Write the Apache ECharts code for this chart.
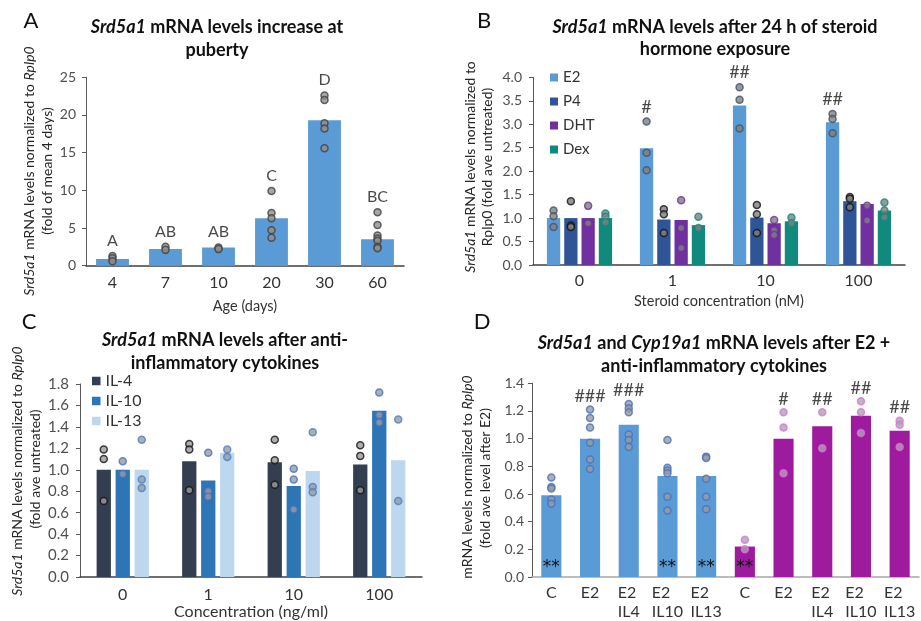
<!DOCTYPE html>
<html><head><meta charset="utf-8">
<script src="https://cdn.jsdelivr.net/npm/echarts@6/dist/echarts.min.js"></script>
<style>html,body{margin:0;padding:0;background:#fff}#c{width:921px;height:621px}</style>
</head><body><div id="c"></div>
<script>
// ---------- Panel A ----------
const aCats = ['4','7','10','20','30','60'];
const aMeans = [0.9, 2.2, 2.4, 6.3, 19.3, 3.5];
const aPoints = [[1.3,1.0,0.6],[2.5,2.1],[2.4,2.2],[9.9,7.0,6.3,4.7,3.7],[22.6,22.0,18.9,18.2,15.6],[7.1,5.4,4.0,3.6,3.3,2.5,2.3]];
const aLetters = ['A','AB','AB','C','D','BC'];

// ---------- Panel B ----------
const bCats = ['0','1','10','100'];
const bNames = ['E2','P4','DHT','Dex'];
const bE2 = [1.0, 2.49, 3.40, 3.04];
const bP4 = [1.0, 0.97, 1.01, 1.36];
const bDHT = [1.0, 0.96, 0.89, 1.30];
const bDex = [1.0, 0.85, 0.93, 1.16];
const bE2Pts = [[1.16,1.04,0.81],[3.06,2.39,2.02],[3.79,3.52,2.91],[3.22,3.11,2.81]];
const bP4Pts = [[1.36,0.84,0.81],[1.19,1.08,0.68],[1.28,1.08,0.68],[1.45,1.41,1.23]];
const bDHTPts = [[1.26,0.89],[1.38,0.79,0.36],[0.96,0.74,0.64],[1.26,0.95]];
const bDexPts = [[1.10,1.03,0.91],[1.03,0.79],[1.01,0.89],[1.33,1.16,1.02]];
const bE2Marks = ['', '#', '##', '##'];

// ---------- Panel C ----------
const cCats = ['0','1','10','100'];
const cNames = ['IL-4','IL-10','IL-13'];
const cIL4 = [1.0, 1.08, 1.07, 1.05];
const cIL10 = [1.0, 0.90, 0.85, 1.55];
const cIL13 = [1.0, 1.16, 0.99, 1.09];
const cIL4Pts = [[1.19,1.10,0.71],[1.24,1.19,0.81],[1.28,1.09,0.86],[1.23,1.13,0.81]];
const cIL10Pts = [[1.08,0.96],[1.16,0.80,0.75],[1.01,0.91,0.63],[1.72,1.51,1.44]];
const cIL13Pts = [[1.28,0.91,0.83],[1.19,1.12],[1.35,0.84,0.79],[1.47,0.71]];

// ---------- Panel D ----------
const dCats = ['C','E2','E2\nIL4','E2\nIL10','E2\nIL13','C','E2','E2\nIL4','E2\nIL10','E2\nIL13'];
const dSrd5a1 = [0.59, 1.0, 1.10, 0.73, 0.73, null, null, null, null, null];
const dCyp19a1 = [null, null, null, null, null, 0.22, 1.0, 1.09, 1.165, 1.057];
const dSrdPts = [[0.72,0.65,0.64,0.56,0.53],[1.21,1.15,1.08,0.97,0.85,0.78],[1.25,1.22,1.19,1.03,0.99,0.94],[0.99,0.79,0.77,0.75,0.58,0.48],[0.87,0.86,0.71,0.58,0.49],null,null,null,null,null];
const dCypPts = [null,null,null,null,null,[0.27,0.20],[1.19,1.08,0.75],[1.19,0.93],[1.27,1.19,1.04],[1.13,1.10,0.94]];
const dHash = ['', '###', '###', '', '', '', '#', '##', '##', '##'];
const dStars = ['**','','','**','**','**','','','',''];

// ---------- styles ----------
const FONT = 'Lato';
const DOT = 7;
const B_BAR = 0.143, B_GAP = 0.3;
const C_BAR = 0.167, C_GAP = 0.33;

function dotData(pts, off) {
  const out = [];
  pts.forEach((p, i) => { if (p) p.forEach(v => out.push([i + off, v])); });
  return out;
}
function topData(pts, marks, off) {
  const out = [];
  pts.forEach((p, i) => { if (p && marks[i]) out.push({value:[i + off, Math.max(...p)], mark: marks[i]}); });
  return out;
}
function dotSeries(x, y, data, border, fill) {
  return {type:'scatter', xAxisIndex:x, yAxisIndex:y, data, symbolSize:DOT, z:5,
    itemStyle:{color:fill || '#9b9b9b', borderColor:border, borderWidth:1.5}};
}
function markSeries(x, y, data, fs, dist) {
  return {type:'scatter', xAxisIndex:x, yAxisIndex:y, data, symbolSize:1, z:6,
    itemStyle:{color:'rgba(0,0,0,0)'},
    label:{show:true, position:'top', distance:dist, fontFamily:FONT, fontSize:fs, color:'#1a1a1a',
      formatter: p => p.data.mark}};
}

const series = [];
// A
series.push({type:'bar', xAxisIndex:0, yAxisIndex:0, data:aMeans, barWidth:'62%', itemStyle:{color:'#5b9bd5'}});
series.push(dotSeries(0, 0, dotData(aPoints, 0), '#404040', '#8f8f8f'));
series.push(markSeries(0, 0, topData(aPoints, aLetters, 0), 16, 7));

// B
const bColors = ['#5b9bd5','#2f5597','#7030a0','#12897d'];
const bBorders = ['#44546a','#111111','#7030a0','#12897d'];
[bE2, bP4, bDHT, bDex].forEach((d, j) => {
  series.push({type:'bar', name:bNames[j], xAxisIndex:1, yAxisIndex:1, data:d,
    barWidth:(B_BAR*100)+'%', barGap:(B_GAP*100)+'%', itemStyle:{color:bColors[j]}});
});
[bE2Pts, bP4Pts, bDHTPts, bDexPts].forEach((p, j) => {
  const off = (j - 1.5) * B_BAR * (1 + B_GAP);
  series.push(dotSeries(2, 1, dotData(p, off), bBorders[j], '#7f7f7f'));
  if (j === 0) series.push(markSeries(2, 1, topData(p, bE2Marks, off), 18, 5));
});

// C
const cColors = ['#333f50','#2e75b6','#bdd7ee'];
const cBorders = ['#111111','#4472c4','#4a7fcc'];
[cIL4, cIL10, cIL13].forEach((d, j) => {
  series.push({type:'bar', name:cNames[j], xAxisIndex:3, yAxisIndex:2, data:d,
    barWidth:(C_BAR*100)+'%', barGap:(C_GAP*100)+'%', itemStyle:{color:cColors[j]}});
});
[cIL4Pts, cIL10Pts, cIL13Pts].forEach((p, j) => {
  const off = (j - 1) * C_BAR * (1 + C_GAP);
  series.push(dotSeries(4, 2, dotData(p, off), cBorders[j]));
});

// D
const starLabel = {show:true, position:'insideBottom', distance:1, fontFamily:'DejaVu Sans', fontSize:17, color:'#111',
  formatter: p => dStars[p.dataIndex]};
series.push({type:'bar', name:'Srd5a1', xAxisIndex:5, yAxisIndex:3, data:dSrd5a1, barWidth:'52%', barGap:'-100%',
  itemStyle:{color:'#5b9bd5'}, label:starLabel});
series.push({type:'bar', name:'Cyp19a1', xAxisIndex:5, yAxisIndex:3, data:dCyp19a1, barWidth:'52%', barGap:'-100%',
  itemStyle:{color:'#9e1b9e'}, label:starLabel});
series.push(dotSeries(5, 3, dotData(dSrdPts, 0), '#4472c4'));
series.push(dotSeries(5, 3, dotData(dCypPts, 0), '#e070e0', '#a8a8a8'));
const allD = dSrdPts.map((p, i) => p || dCypPts[i]);
series.push(markSeries(5, 3, topData(allD, dHash, 0), 18, 4));

// ---------- axes ----------
const yLab = (fs, m, dec) => ({fontFamily:FONT, fontSize:fs, color:'#505050', margin:m,
  formatter: v => dec ? v.toFixed(dec) : String(v)});
const yAx = (grid, max, interval, fs, m, dec) => ({type:'value', gridIndex:grid, min:0, max, interval,
  axisLine:{show:true, onZero:false, lineStyle:{color:'#595959', width:1}},
  axisTick:{show:true, length:4, lineStyle:{color:'#595959'}},
  splitLine:{show:false}, axisLabel:yLab(fs, m, dec)});
const xCat = (grid, data, fs, m, extra) => Object.assign({type:'category', gridIndex:grid, data,
  axisLine:{onZero:false, lineStyle:{color:'#404040', width:1.5}}, axisTick:{show:false},
  axisLabel:{fontFamily:FONT, fontSize:fs, color:'#333', margin:m, interval:0}}, extra || {});
const nameStyle = (fs) => ({fontFamily:FONT, fontSize:fs, color:'#333'});

const xAxis = [
  xCat(0, aCats, 16, 9, {name:'Age (days)', nameLocation:'middle', nameGap:33, nameTextStyle:nameStyle(14.5)}),
  xCat(1, bCats, 16, 8, {name:'Steroid concentration (nM)', nameLocation:'middle', nameGap:29, nameTextStyle:nameStyle(14.5)}),
  {type:'value', gridIndex:1, min:-0.5, max:3.5, show:false},
  xCat(2, cCats, 16, 10, {name:'Concentration (ng/ml)', nameLocation:'middle', nameGap:22, nameTextStyle:nameStyle(16)}),
  {type:'value', gridIndex:2, min:-0.5, max:3.5, show:false},
  xCat(3, dCats, 16, 7, {axisLine:{onZero:false, lineStyle:{color:'#a6a6a6', width:1.5}},
    axisLabel:{fontFamily:FONT, fontSize:16, color:'#333', margin:6, interval:0, lineHeight:19,
      formatter: v => v.split('\n').map(s => '{l|' + s + '}').join('\n'),
      rich:{l:{align:'left', fontFamily:FONT, fontSize:16, color:'#333', lineHeight:19}}}})
];
const yAxis = [
  yAx(0, 25, 5, 14, 10, 0),
  yAx(1, 4, 0.5, 14, 11, 1),
  yAx(2, 1.8, 0.2, 15, 11, 1),
  yAx(3, 1.4, 0.2, 14, 8, 1)
];

// ---------- texts ----------
function bt(size) { return {fontFamily:FONT, fontSize:size, fontWeight:'bold', fill:'#111'}; }
function titleLine(x, y, text, size) {
  return {type:'text', x, y, style:Object.assign(bt(size), {text, align:'center', verticalAlign:'middle',
    rich:{i:{fontFamily:FONT, fontSize:size, fontWeight:'bold', fontStyle:'italic', fill:'#111'},
          n:{fontFamily:FONT, fontSize:size, fontWeight:'bold', fill:'#111'}}})};
}
function yName(x, y, text, size) {
  return {type:'text', x, y, rotation:Math.PI/2, style:{text, fontFamily:FONT, fontSize:size, fill:'#262626',
    align:'center', verticalAlign:'middle',
    rich:{i:{fontFamily:FONT, fontSize:size, fontStyle:'italic', fill:'#262626'},
          n:{fontFamily:FONT, fontSize:size, fill:'#262626'}}}};
}
function letter(x, y, t) {
  return {type:'text', x, y, style:{text:t, fontFamily:FONT, fontSize:22, fill:'#111', align:'center', verticalAlign:'middle'}};
}
const TS = 18, YS = 14;
const graphic = [
  letter(31, 21, 'A'), letter(484, 21, 'B'), letter(29, 322, 'C'), letter(482, 322, 'D'),
  titleLine(217, 27, '{i|Srd5a1}{n| mRNA levels increase at}', TS),
  titleLine(217, 50, '{n|puberty}', TS),
  titleLine(715, 27, '{i|Srd5a1}{n| mRNA levels after 24 h of steroid}', TS),
  titleLine(715, 49, '{n|hormone exposure}', TS),
  titleLine(225, 340, '{i|Srd5a1}{n| mRNA levels after anti-}', TS),
  titleLine(225, 363, '{n|inflammatory cytokines}', TS),
  titleLine(714, 343, '{i|Srd5a1}{n| and }{i|Cyp19a1}{n| mRNA levels after E2 +}', TS),
  titleLine(714, 366, '{n|anti-inflammatory cytokines}', TS),
  yName(29, 171, '{i|Srd5a1}{n| mRNA levels normalized to }{i|Rplp0}', YS),
  yName(47, 171, '{n|(fold of mean 4 days)}', YS),
  yName(470, 167, '{i|Srd5a1}{n| mRNA levels normalized to}', YS),
  yName(487, 167, '{n|Rplp0 (fold ave untreated)}', YS),
  yName(17, 471, '{i|Srd5a1}{n| mRNA levels normalized to }{i|Rplp0}', YS),
  yName(35, 469, '{n|(fold ave untreated)}', YS),
  yName(467, 477, '{n|mRNA levels normalized to }{i|Rplp0}', YS),
  yName(485, 478, '{n|(fold ave level after E2)}', YS)
];

const option = {
  animation:false,
  backgroundColor:'#fff',
  grid:[
    {left:86, top:77.3, width:318, height:188.4},
    {left:533, top:77.3, width:372, height:187.7},
    {left:80, top:384, width:342, height:198.3},
    {left:532, top:383.3, width:387, height:198.7}
  ],
  xAxis, yAxis, series, graphic,
  legend:[
    {data:bNames, orient:'vertical', left:550, top:70, padding:0, itemWidth:8, itemHeight:8, itemGap:9, icon:'rect',
      textStyle:{fontFamily:FONT, fontSize:15, color:'#333'}, selectedMode:false},
    {data:cNames, orient:'vertical', left:92, top:373, padding:0, itemWidth:8.5, itemHeight:8.5, itemGap:4, icon:'rect',
      textStyle:{fontFamily:FONT, fontSize:16, color:'#333'}, selectedMode:false}
  ]
};
const chart = echarts.init(document.getElementById('c'));
chart.setOption(option);
</script></body></html>
